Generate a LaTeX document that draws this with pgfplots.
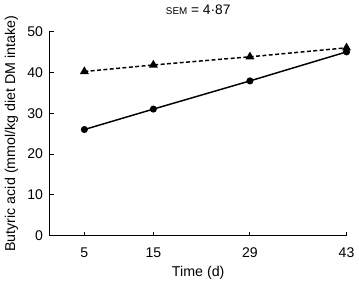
\documentclass[border=0pt]{standalone}
\usepackage{pgfplots}
\pgfplotsset{compat=1.18}
\usepackage{fontspec}
\setmainfont{Liberation Sans}
\begin{document}
\fontsize{14.3}{16}\selectfont
\begin{tikzpicture}
\begin{axis}[
  scale only axis,
  width=302pt, height=208pt,
  xmin=0, xmax=43, ymin=0, ymax=50,
  axis x line*=bottom, axis y line*=left,
  xtick={5,15,29,43}, ytick={0,10,...,50},
  tick align=inside,
  major tick length=4pt,
  tick style={line width=1pt, black},
  axis line style={line width=1pt},
  /pgf/number format/assume math mode=true,
  ticklabel style={font=\fontsize{14.3}{16}\selectfont},
  xticklabel style={yshift=-7pt},
  yticklabel style={xshift=-2pt},
  xlabel={Time (d)},
  ylabel={Butyric acid (mmol/kg diet DM intake)},
  label style={font=\fontsize{14.5}{16}\selectfont},
  xlabel style={at={(axis description cs:0.5,0)}, anchor=base, yshift=-41pt},
  ylabel style={at={([xshift=-35.5pt]axis description cs:0,0.5)}, anchor=base},
  title={{\fontsize{10}{11}\selectfont SEM} = 4\textperiodcentered 87},
  title style={font=\fontsize{14}{16}\selectfont, at={(axis description cs:0.5,1)}, anchor=base, yshift=11.5pt},
  clip=false,
]
\addplot[black, line width=1.5pt, mark=*, mark size=2.8pt] coordinates {
  (5,26.0) (15,31.0) (29,37.9) (43,45.0)
};
\addplot[black, line width=1.5pt, dash pattern=on 4pt off 2.5pt, mark=triangle*, mark size=3.8pt, mark options={solid}] coordinates {
  (5,40.2) (15,41.8) (29,43.8) (43,46.0)
};
\end{axis}
\path ([shift={(-50pt,-44pt)}]current axis.south west) rectangle ([shift={(7pt,29pt)}]current axis.north east);
\end{tikzpicture}
\end{document}
